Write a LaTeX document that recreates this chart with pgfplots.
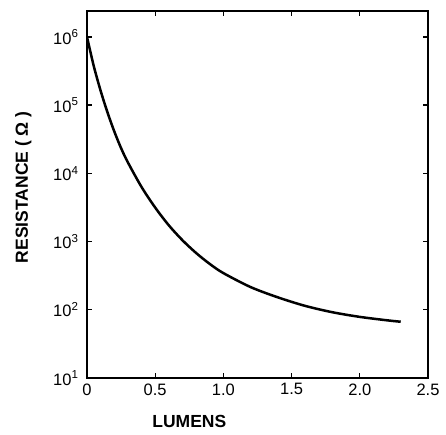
\documentclass[border=0pt]{standalone}
\usepackage{fontspec}
\setmainfont{Liberation Sans}
\usepackage{pgfplots}
\pgfplotsset{compat=1.18}
\begin{document}
\begin{tikzpicture}
\begin{semilogyaxis}[
  scale only axis,
  width=341pt, height=367pt,
  xmin=0, xmax=2.5,
  ymin=10, ymax=2.4e6,
  axis line style={line width=1.3pt},
  tick style={line width=1.3pt, black},
  major tick length=5pt,
  tick align=inside,
  xtick={0,0.5,1,1.5,2,2.5},
  xticklabels={0,0.5,1.0,1.5,2.0,2.5},
  ytick={10,100,1000,10000,100000,1000000},
  yticklabels={10\textsuperscript{1},10\textsuperscript{2},10\textsuperscript{3},10\textsuperscript{4},10\textsuperscript{5},10\textsuperscript{6}},
  minor tick num=0,
  yminorticks=false,
  ticklabel style={font=\fontsize{16.5}{19}\selectfont},
  xticklabel style={yshift=-2pt},
  yticklabel style={xshift=-5pt},
  /pgf/number format/assume math mode=true,
  xlabel={\bfseries LUMENS},
  ylabel={\bfseries RESISTANCE ( Ω )},
  label style={font=\fontsize{17.5}{20}\selectfont},
  xlabel style={at={(axis description cs:0.30,0)}, anchor=north, yshift=-34pt},
  ylabel style={at={(axis description cs:0,0.52)}, anchor=south, yshift=52pt},
]
\addplot[black, line width=2.5pt, smooth] coordinates {
(0,1000000)
(0.05,371500)
(0.10,162200)
(0.15,78500)
(0.20,41200)
(0.25,23400)
(0.30,14450)
(0.40,6310)
(0.50,3150)
(0.60,1730)
(0.70,1045)
(0.80,680)
(0.90,470)
(1.00,345)
(1.20,215)
(1.40,152)
(1.60,114)
(1.80,92)
(2.00,78.7)
(2.20,70.1)
(2.30,66.8)
};
\end{semilogyaxis}
\path (current axis.south west) ++(-87pt,-56pt) coordinate (bl);
\path (current axis.north east) ++(18pt,11pt) coordinate (tr);
\path (bl) rectangle (tr);
\end{tikzpicture}
\end{document}
